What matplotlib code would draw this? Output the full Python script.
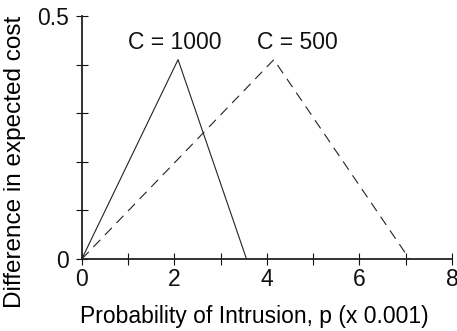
import numpy as np
import matplotlib.pyplot as plt

plt.rcParams['font.family'] = ['Liberation Sans', 'DejaVu Sans']

# curve vertices (p in units of 0.001)
p_1000 = [0, 2.08, 3.56]
d_1000 = [0, 0.41, 0]
p_500 = [0, 4.15, 7.08]
d_500 = [0, 0.41, 0]

labels = ['C = 1000', 'C = 500']
label_x = [2.0, 4.65]
label_y = [0.445, 0.445]

fig = plt.figure(figsize=(4.57, 3.31), dpi=100)
ax = fig.add_axes([0.179, 0.2175, 0.81, 0.7345])

ax.plot(p_1000, d_1000, color='#222222', lw=0.8)
ax.plot(p_500, d_500, color='#222222', lw=0.8, linestyle=(0, (9, 6)))

for t, x, y in zip(labels, label_x, label_y):
    ax.text(x, y, t, ha='center', va='center', fontsize=16.5, color='#111111')

ax.set_xlim(0, 8)
ax.set_ylim(0, 0.5)
ax.set_xticks([0, 2, 4, 6, 8])
ax.set_xticks([1, 3, 5, 7], minor=True)
ax.set_yticks([0, 0.5])
ax.set_yticklabels(['0', '0.5'])
ax.set_yticks([0.1, 0.2, 0.3, 0.4], minor=True)

ax.tick_params(which='both', direction='inout', length=8.5, width=0.8,
               labelsize=16.5, colors='#111111')
ax.tick_params(axis='x', pad=2)
ax.tick_params(axis='y', pad=5)

for s in ['top', 'right']:
    ax.spines[s].set_visible(False)
for s in ['left', 'bottom']:
    ax.spines[s].set_linewidth(1.3)
    ax.spines[s].set_color('#222222')

ax.set_xlabel('Probability of Intrusion, p (x 0.001)', fontsize=16.5)
ax.set_ylabel('Difference in expected cost', fontsize=17.5)
ax.xaxis.set_label_coords(0.466, -0.19)
ax.yaxis.set_label_coords(-0.15, 0.4)
ax.patch.set_alpha(0)

plt.savefig('out.png')
